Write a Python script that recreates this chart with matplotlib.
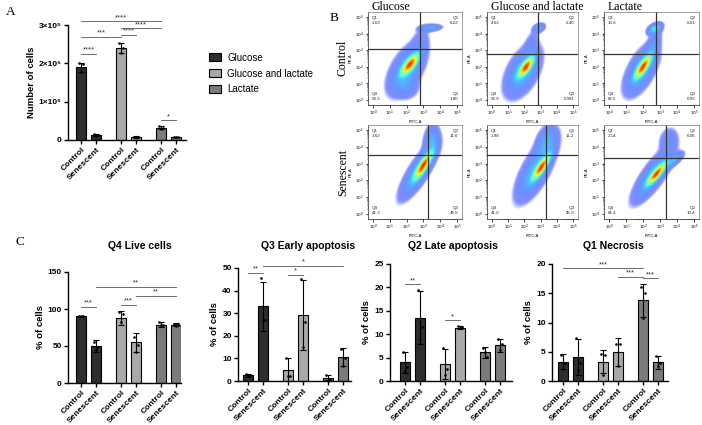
import numpy as np
import matplotlib
matplotlib.use('Agg')
import matplotlib.pyplot as plt
from matplotlib import cm
from matplotlib.patches import Patch

plt.rcParams['font.family'] = ['Liberation Sans', 'DejaVu Sans']

W, H = 702, 425
fig = plt.figure(figsize=(7.02, 4.25), dpi=100)

def rect(l, t, r, b):
    return [l / W, 1 - b / H, (r - l) / W, (b - t) / H]

def ftext(x, y, s, **kw):
    fig.text(x / W, 1 - y / H, s, **kw)

# ---------------- data ----------------
groups = ["Glucose", "Glucose and lactate", "Lactate"]
bar_labels = ["Control", "Senescent", "Control", "Senescent", "Control", "Senescent"]
group_colors = ["#2e2e2e", "#a9a9a9", "#7b7b7b"]

# Panel A: number of cells
a_means = [1.9e5, 1.3e4, 2.4e5, 8.0e3, 3.2e4, 8.0e3]
a_sds = [1.2e4, 3.0e3, 1.3e4, 1.5e3, 4.0e3, 1.0e3]
a_dots = [[2.02e5, 1.98e5, 1.78e5], [1.6e4, 1.3e4, 1.1e4], [2.53e5, 2.40e5, 2.28e5],
          [9.0e3, 8.0e3, 7.0e3], [3.6e4, 3.1e4, 2.9e4], [8.0e3, 8.0e3, 8.0e3]]
a_sigs = [(0, 1, 2.25e5, "****"), (0, 2, 2.70e5, "***"), (2, 3, 2.75e5, "****"),
          (2, 4, 2.92e5, "****"), (0, 4, 3.10e5, "****"), (4, 5, 0.52e5, "*")]
a_yticks = [0, 1e5, 2e5, 3e5]
a_yticklabels = ["0", "1×10⁵", "2×10⁵", "3×10⁵"]

# Panel C
c_titles = ["Q4 Live cells", "Q3 Early apoptosis", "Q2 Late apoptosis", "Q1 Necrosis"]

q4_means = [90, 50, 88, 55, 79, 79]
q4_sds = [1, 8, 9, 13, 3, 2]
q4_dots = [[90.5, 90, 91], [56, 49, 45], [96, 93, 82], [62, 52, 42], [82, 78, 78], [80, 80, 77]]
q4_sigs = [(0, 1, 103, "***"), (2, 3, 106, "***"), (1, 5, 130, "**"), (3, 5, 118, "**")]

q3_means = [2.5, 33, 5, 29, 1.5, 10.5]
q3_sds = [0.6, 11, 5, 15.5, 1.2, 4]
q3_dots = [[3, 2.5, 2], [45.5, 27, 27], [10, 2, 2], [45, 26, 15], [2.5, 1, 0.5], [14.3, 10.3, 6.5]]
q3_sigs = [(0, 1, 48, "**"), (2, 3, 47, "*"), (1, 5, 51, "*")]

q2_means = [4, 13.5, 3.6, 11.4, 6.1, 7.6]
q2_sds = [2.2, 5.7, 3.2, 0.3, 1.2, 1.3]
q2_dots = [[6.2, 3, 2.2], [19.5, 11.5, 9], [7, 2.5, 1.2], [11.7, 11.5, 11.3], [7, 5.2, 6.2], [9, 7.8, 6.6]]
q2_sigs = [(0, 1, 20.7, "**"), (2, 3, 13, "*")]

q1_means = [3.3, 4.1, 3.3, 4.9, 13.8, 3.2]
q1_sds = [1.3, 3.0, 2.0, 2.4, 2.8, 1.1]
q1_dots = [[4.5, 3, 2], [7.4, 3.1, 1.8], [4.6, 4.4, 1], [6.4, 6.3, 2.5], [16, 15, 10.8], [4.3, 3, 2.5]]
q1_sigs = [(0, 4, 19.3, "***"), (3, 4, 17.8, "***"), (4, 5, 17.6, "***")]

# Panel B: flow cytometry quadrant percentages (Q1, Q2, Q3, Q4)
flow_rows = ["Control", "Senescent"]
flow_quads = [
    [["1.69", "6.22", "1.80", "90.3"], ["4.62", "2.40", "0.081", "92.9"], ["10.6", "6.01", "0.93", "82.5"]],
    [["1.62", "11.6", "45.5", "41.3"], ["1.98", "11.2", "45.9", "41.0"], ["2.14", "6.06", "10.4", "81.4"]],
]
# gate positions (log10 FITC, log10 PE)
flow_gates = [[(2.8, 3.05), (2.84, 2.8), (2.75, 2.76)],
              [(3.3, 3.5), (3.35, 3.5), (3.34, 3.34)]]
# event populations: (cx, cy, sx, sy, rho, weight) in log10 units
flow_pops = [
    [
        [(2.2, 2.15, 0.27, 0.33, 0.75, 1.0), (2.0, 1.85, 0.55, 0.75, 0.55, 0.1),
         (3.4, 4.35, 0.35, 0.12, 0.2, 0.07), (2.8, 3.3, 0.3, 0.6, 0.3, 0.02), (2.0, 0.8, 0.4, 0.4, 0.0, 0.03)],
        [(2.1, 2.0, 0.25, 0.31, 0.75, 1.0), (1.9, 1.7, 0.55, 0.75, 0.5, 0.1),
         (2.9, 4.35, 0.2, 0.15, 0.3, 0.07), (2.4, 3.3, 0.25, 0.5, 0.5, 0.02)],
        [(2.0, 2.0, 0.25, 0.36, 0.8, 1.0), (1.9, 1.8, 0.5, 0.75, 0.6, 0.1),
         (2.7, 4.3, 0.22, 0.18, 0.4, 0.15), (2.6, 3.3, 0.25, 0.5, 0.6, 0.04)],
    ],
    [
        [(3.0, 2.9, 0.28, 0.42, 0.85, 1.0), (2.7, 2.5, 0.55, 0.8, 0.8, 0.1), (3.5, 4.3, 0.25, 0.5, 0.2, 0.08)],
        [(3.05, 2.8, 0.28, 0.38, 0.85, 1.0), (2.7, 2.6, 0.6, 0.9, 0.7, 0.1), (3.4, 4.3, 0.35, 0.5, 0.3, 0.07)],
        [(2.8, 2.4, 0.28, 0.33, 0.85, 1.0), (2.6, 2.3, 0.6, 0.8, 0.8, 0.1),
         (3.8, 3.2, 0.3, 0.25, 0.7, 0.08), (3.5, 4.4, 0.3, 0.4, 0.2, 0.03)],
    ],
]

# ---------------- styling constants ----------------
POS = np.array([0, 1.5, 4, 5.5, 8, 9.5])
BAR_COLORS = [group_colors[0], group_colors[0], group_colors[1], group_colors[1],
              group_colors[2], group_colors[2]]
JIT = np.array([-0.2, 0.2, 0.0])


def bar_panel(box, xlim, means, sds, dots, sigs, ylim, yticks, yticklabels, ylabel):
    ax = fig.add_axes(rect(*box))
    ax.bar(POS, means, width=1.0, color=BAR_COLORS, edgecolor='black', linewidth=0.8, zorder=2)
    ax.errorbar(POS, means, yerr=sds, fmt='none', ecolor='black', elinewidth=0.8,
                capsize=2, capthick=0.8, zorder=3)
    for p, d in zip(POS, dots):
        ax.scatter(p + JIT[:len(d)], d, s=3.5, color='black', zorder=4, linewidths=0)
    for i, j, y, lab in sigs:
        ax.plot([POS[i], POS[j]], [y, y], color='#555555', lw=0.6, clip_on=False, zorder=5)
        ax.text((POS[i] + POS[j]) / 2, y, lab, ha='center', va='bottom', fontsize=5.5,
                color='#333333', clip_on=False)
    ax.set_xlim(*xlim)
    ax.set_ylim(*ylim)
    ax.set_yticks(yticks)
    ax.set_yticklabels(yticklabels)
    ax.set_xticks(POS)
    ax.set_xticklabels(bar_labels, rotation=45, ha='right', rotation_mode='anchor')
    for s in ['top', 'right']:
        ax.spines[s].set_visible(False)
    for s in ['left', 'bottom']:
        ax.spines[s].set_linewidth(1.0)
    ax.tick_params(width=1.0, length=3, labelsize=6, pad=1.5)
    for t in ax.get_xticklabels() + ax.get_yticklabels():
        t.set_fontweight('bold')
    ax.set_ylabel(ylabel, fontsize=6.8, fontweight='bold', labelpad=2)
    return ax


# ---------------- Panel A ----------------
bar_panel((68, 25, 186, 140), (-1.3, 10.5), a_means, a_sds, a_dots, a_sigs,
          (0, 3e5), a_yticks, a_yticklabels, "Number of cells")
handles = [Patch(facecolor=c, edgecolor='black', linewidth=0.8) for c in group_colors]
fig.legend(handles, groups, loc='upper left', bbox_to_anchor=(200 / W, 1 - 44 / H),
           frameon=False, fontsize=7, handlelength=1.3, handleheight=0.9,
           labelspacing=0.6, handletextpad=0.6)

# ---------------- Panel C ----------------
bar_panel((68, 272, 181, 383), (-1.3, 10.0), q4_means, q4_sds, q4_dots, q4_sigs,
          (0, 150), [0, 50, 100, 150], ["0", "50", "100", "150"], "% of cells")
bar_panel((238, 268, 351, 381), (-1.0, 10.3), q3_means, q3_sds, q3_dots, q3_sigs,
          (0, 50), [0, 10, 20, 30, 40, 50], ["0", "10", "20", "30", "40", "50"], "% of cells")
bar_panel((390, 264, 512, 381), (-1.5, 10.7), q2_means, q2_sds, q2_dots, q2_sigs,
          (0, 25), [0, 5, 10, 15, 20, 25], ["0", "5", "10", "15", "20", "25"], "% of cells")
bar_panel((552, 264, 668, 381), (-1.1, 10.5), q1_means, q1_sds, q1_dots, q1_sigs,
          (0, 20), [0, 5, 10, 15, 20], ["0", "5", "10", "15", "20"], "% of cells")
for x, t in zip([140, 308, 453, 613], c_titles):
    ftext(x, 246, t, fontsize=7.5, fontweight='bold', ha='center', va='center')

# ---------------- Panel B ----------------
col_px = [(368, 462), (487, 578), (604, 699)]
row_px = [(12, 105), (125, 219)]
g = np.linspace(-0.3, 5.3, 260)
GX, GY = np.meshgrid(g, g)
minor = [k + np.log10(m) for k in range(0, 5) for m in range(2, 10)]
LMIN = -2.5

for r in range(2):
    for c in range(3):
        (l, rr), (t, b) = col_px[c], row_px[r]
        ax = fig.add_axes(rect(l, t, rr, b))
        D = np.zeros_like(GX)
        for cx, cy, sx, sy, rho, w in flow_pops[r][c]:
            dx = (GX - cx) / sx
            dy = (GY - cy) / sy
            z = (dx ** 2 - 2 * rho * dx * dy + dy ** 2) / (1 - rho ** 2)
            D += w * np.exp(-0.5 * z)
        L = np.log10(D / D.max() + 1e-12)
        nrm = np.clip((L - LMIN) / -LMIN, 0, 1)
        rgba = cm.jet(0.15 + 0.72 * nrm ** 3.0)
        alpha = (0.45 + 0.55 * nrm ** 1.5) * np.clip((L - LMIN) / 0.4, 0, 1)
        rgba[..., 3] = alpha
        ax.imshow(rgba, extent=(-0.3, 5.3, -0.3, 5.3), origin='lower',
                  interpolation='bilinear', aspect='auto')
        gx, gy = flow_gates[r][c]
        ax.axvline(gx, color='#333333', lw=0.9)
        ax.axhline(gy, color='#333333', lw=0.9)
        q1, q2, q3, q4 = flow_quads[r][c]
        kw = dict(transform=ax.transAxes, fontsize=3.2, color='#222222', linespacing=1.3)
        ax.text(0.04, 0.96, "Q1\n" + q1, va='top', ha='left', **kw)
        ax.text(0.96, 0.96, "Q2\n" + q2, va='top', ha='right', **kw)
        ax.text(0.04, 0.04, "Q4\n" + q4, va='bottom', ha='left', **kw)
        ax.text(0.96, 0.04, "Q3\n" + q3, va='bottom', ha='right', **kw)
        ax.set_xlim(-0.3, 5.3)
        ax.set_ylim(-0.3, 5.3)
        ticks = list(range(6))
        labs = [f"$10^{k}$" for k in ticks]
        ax.set_xticks(ticks)
        ax.set_xticklabels(labs)
        ax.set_yticks(ticks)
        ax.set_yticklabels(labs)
        ax.set_xticks(minor, minor=True)
        ax.set_yticks(minor, minor=True)
        ax.tick_params(which='major', length=1.8, width=0.5, labelsize=3, pad=1)
        ax.tick_params(which='minor', length=0.9, width=0.3)
        for s in ax.spines.values():
            s.set_linewidth(0.5)
            s.set_color('#777777')
        ax.spines['left'].set_color('#222222')
        ax.spines['bottom'].set_color('#222222')
        ax.set_xlabel("FITC-A", fontsize=3, labelpad=1.5)
        ax.set_ylabel("PE-A", fontsize=3, labelpad=2)

serif = ['Liberation Serif', 'DejaVu Serif']
for c, name in enumerate(groups):
    ftext(col_px[c][0] + 4, 1, name, family=serif, fontsize=8.5, va='top', ha='left')
ftext(343, 58, flow_rows[0], family=serif, fontsize=8.5, rotation=90, ha='center', va='center')
ftext(343, 172, flow_rows[1], family=serif, fontsize=8.5, rotation=90, ha='center', va='center')

# panel letters
ftext(6, 12, "A", family=serif, fontsize=9.5, va='center', ha='left')
ftext(330, 18, "B", family=serif, fontsize=9.5, va='center', ha='left')
ftext(16, 242, "C", family=serif, fontsize=9.5, va='center', ha='left')

fig.savefig("out.png", dpi=100)
